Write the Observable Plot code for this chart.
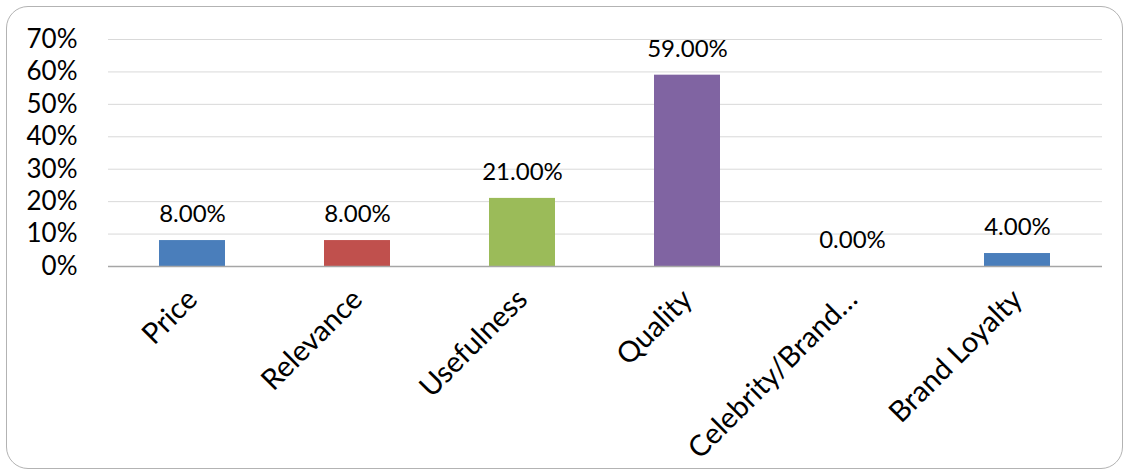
<!DOCTYPE html>
<html>
<head>
<meta charset="utf-8">
<script src="https://cdn.jsdelivr.net/npm/d3@7"></script>
<script src="https://cdn.jsdelivr.net/npm/@observablehq/plot@0.6"></script>
<style>
  html, body { margin: 0; padding: 0; background: #fff; }
  #wrap { position: relative; width: 1125px; height: 476px; }
  #frame { position: absolute; left: 6px; top: 6px; width: 1115px; height: 461px;
           border: 1px solid #b3b3b3; border-radius: 22px; }
  #chart { position: absolute; left: 0; top: 0; }
</style>
</head>
<body>
<div id="wrap"><div id="frame"></div><div id="chart"></div></div>
<script>
const categories = ["Price", "Relevance", "Usefulness", "Quality", "Celebrity/Brand…", "Brand Loyalty"];
const values = [0.08, 0.08, 0.21, 0.59, 0.00, 0.04];
const colors = ["#4A7EBB", "#C0504D", "#9BBB59", "#8064A2", "#4A7EBB", "#4A7EBB"];
const yTicks = [0, 0.1, 0.2, 0.3, 0.4, 0.5, 0.6, 0.7];

const data = categories.map((c, i) => ({category: c, value: values[i], color: colors[i]}));
const font = "Lato, 'Open Sans', sans-serif";

const chart = Plot.plot({
  width: 1125,
  height: 476,
  marginLeft: 108,
  marginRight: 23,
  marginTop: 39,
  marginBottom: 210,
  style: {fontFamily: font, background: "transparent", color: "#000"},
  x: {domain: categories, paddingInner: 0.6, paddingOuter: 0.3, label: null},
  y: {domain: [0, 0.7], label: null},
  marks: [
    Plot.gridY(yTicks, {stroke: "#d9d9d9", strokeOpacity: 1, strokeWidth: 1}),
    Plot.axisY(yTicks, {tickSize: 0, tickPadding: 31, fontSize: 26, tickFormat: d => Math.round(d * 100) + "%", label: null}),
    Plot.axisX({tickSize: 0, tickRotate: -45, tickPadding: 28, fontSize: 29, label: null}),
    Plot.barY(data, {x: "category", y: "value", fill: "color"}),
    Plot.ruleY([0], {stroke: "#a6a6a6", strokeWidth: 1.5}),
    Plot.text(data, {x: "category", y: "value", text: d => (d.value * 100).toFixed(2) + "%", dy: -26, fontSize: 24, fill: "#000"})
  ]
});
document.getElementById("chart").appendChild(chart);
</script>
</body>
</html>
